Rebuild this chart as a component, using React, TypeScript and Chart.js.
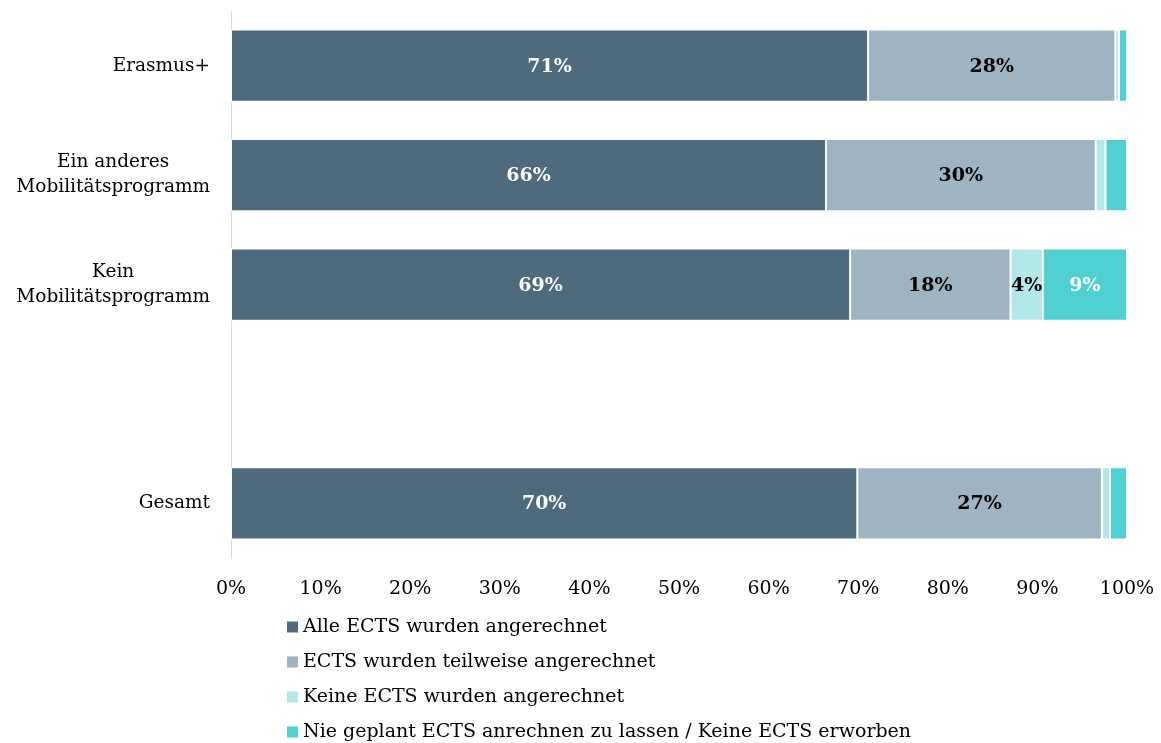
import React, { useEffect, useRef } from "react";
import { Chart, registerables } from "chart.js";

Chart.register(...registerables);

const categories: (string | string[])[] = [
  "Erasmus+",
  ["Ein anderes", "Mobilitätsprogramm"],
  ["Kein", "Mobilitätsprogramm"],
  "",
  "Gesamt",
];

const seriesNames = [
  "Alle ECTS wurden angerechnet",
  "ECTS wurden teilweise angerechnet",
  "Keine ECTS wurden angerechnet",
  "Nie geplant ECTS anrechnen zu lassen / Keine ECTS erworben",
];

const alleValues = [71.1, 66.4, 69.1, null, 69.9];
const teilweiseValues = [27.6, 30.1, 17.9, null, 27.3];
const keineValues = [0.4, 1.1, 3.6, null, 0.9];
const nieValues = [0.9, 2.4, 9.4, null, 1.9];

const xTicks = [0, 10, 20, 30, 40, 50, 60, 70, 80, 90, 100];

const colors = ["#4E6A7D", "#9FB4C2", "#B2E8EA", "#50D0D3"];
const labelColors = ["#ffffff", "#000000", "#000000", "#ffffff"];

const FONT = "'DejaVu Serif', serif";

const valueLabelPlugin = {
  id: "valueLabels",
  afterDatasetsDraw(chart: any) {
    const ctx = chart.ctx;
    ctx.save();
    ctx.font = `bold 19px ${FONT}`;
    ctx.textAlign = "center";
    ctx.textBaseline = "middle";
    chart.data.datasets.forEach((ds: any, di: number) => {
      const meta = chart.getDatasetMeta(di);
      meta.data.forEach((el: any, i: number) => {
        const v = ds.data[i];
        if (v == null || v < 3) return;
        ctx.fillStyle = labelColors[di];
        ctx.fillText(`${Math.round(v)}%`, (el.x + el.base) / 2, el.y + 1);
      });
    });
    ctx.restore();
  },
};

const categoryLabelPlugin = {
  id: "categoryLabels",
  afterDraw(chart: any) {
    const ctx = chart.ctx;
    const y = chart.scales.y;
    ctx.save();
    ctx.font = `18.5px ${FONT}`;
    ctx.fillStyle = "#000000";
    ctx.textBaseline = "middle";
    ctx.textAlign = "center";
    const rightEdge = 210;
    const lineH = 25;
    categories.forEach((cat, i) => {
      const lines = Array.isArray(cat) ? cat : [cat];
      if (!lines[0]) return;
      const cy = y.getPixelForValue(i);
      const w = Math.max(...lines.map((l) => ctx.measureText(l).width));
      const cx = rightEdge - w / 2;
      lines.forEach((l, k) => {
        ctx.fillText(l, cx, cy + (k - (lines.length - 1) / 2) * lineH);
      });
    });
    ctx.restore();
  },
};

const legendPlugin = {
  id: "customLegend",
  afterDraw(chart: any) {
    const ctx = chart.ctx;
    ctx.save();
    ctx.font = `19px ${FONT}`;
    ctx.textBaseline = "middle";
    ctx.textAlign = "left";
    chart.data.datasets.forEach((ds: any, i: number) => {
      const cy = 627 + i * 35;
      ctx.fillStyle = ds.backgroundColor;
      ctx.fillRect(287, cy - 5.5, 11, 11);
      ctx.fillStyle = "#000000";
      ctx.fillText(ds.label, 303, cy);
    });
    ctx.restore();
  },
};

export default function App() {
  const ref = useRef<HTMLCanvasElement>(null);
  useEffect(() => {
    document.body.style.margin = "0";
    const datasetsData = [alleValues, teilweiseValues, keineValues, nieValues];
    const chart = new Chart(ref.current!, {
      type: "bar",
      data: {
        labels: categories as any,
        datasets: datasetsData.map((d, i) => ({
          label: seriesNames[i],
          data: d as any,
          backgroundColor: colors[i],
          borderColor: "#ffffff",
          borderWidth: 1,
          borderSkipped: false,
          barPercentage: 0.66,
          categoryPercentage: 1,
        })),
      },
      options: {
        indexAxis: "y",
        animation: false,
        responsive: false,
        maintainAspectRatio: false,
        layout: { padding: { left: 223, right: 0, top: 11, bottom: 132 } },
        plugins: {
          legend: { display: false },
          tooltip: { enabled: false },
        },
        scales: {
          x: {
            stacked: true,
            min: 0,
            max: 100,
            afterBuildTicks: (axis: any) => {
              axis.ticks = xTicks.map((v) => ({ value: v }));
            },
            afterFit: (axis: any) => {
              axis.paddingRight = 34;
              axis.paddingLeft = 0;
            },
            grid: { display: false },
            border: { display: false },
            ticks: {
              font: { family: FONT, size: 19 },
              color: "#000000",
              padding: 11,
              callback: (v: any) => `${v}%`,
            },
          },
          y: {
            stacked: true,
            grid: { display: false },
            border: { display: true, color: "#d9d9d9", width: 1 },
            ticks: { display: false },
          },
        },
      },
      plugins: [valueLabelPlugin, categoryLabelPlugin, legendPlugin],
    });
    return () => chart.destroy();
  }, []);
  return <canvas ref={ref} width={1161} height={743} style={{ display: "block" }} />;
}
